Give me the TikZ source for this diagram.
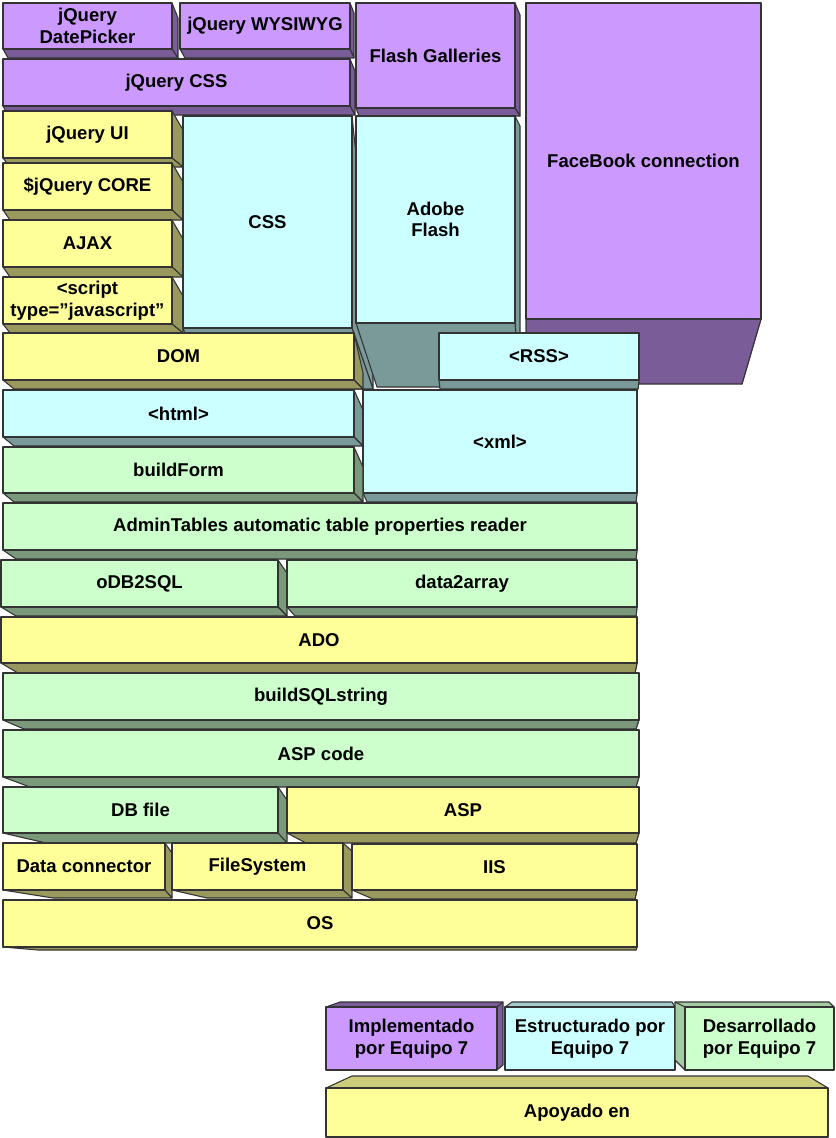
\documentclass[tikz,border=0pt]{standalone}
\usepackage{fontspec}
\setmainfont{Liberation Sans}
\usepackage{tikz}
\usetikzlibrary{fit}

\definecolor{purpfront}{HTML}{CC99FF}
\definecolor{purpdark}{HTML}{7A5C99}
\definecolor{yelfront}{HTML}{FFFF99}
\definecolor{yeldark}{HTML}{99995E}
\definecolor{yellight}{HTML}{CCCC7A}
\definecolor{cyanfront}{HTML}{CCFFFF}
\definecolor{cyandark}{HTML}{7A9999}
\definecolor{cyanlight}{HTML}{A3CCCC}
\definecolor{greenfront}{HTML}{CCFFCC}
\definecolor{greendark}{HTML}{7A997A}
\definecolor{greenlight}{HTML}{A3CCA3}

\newcommand{\layerfont}{\fontsize{13.9}{16.3}\selectfont\bfseries}

\tikzset{
  edge/.style={draw=black!80, line width=0.8pt, line join=round},
  face/.style={edge, inner sep=0pt},
  layertext/.style={inner sep=0pt, align=center, font=\layerfont},
}

% layer block: name, front colour, side colour, top left, bottom right,
% bottom shift (left x, depth), right shift (x, top y), text
\newcommand{\slab}[8]{%
  \coordinate (#1-nw) at (#4);
  \coordinate (#1-se) at (#5);
  \path (#1-nw |- #1-se) ++(#6) coordinate (#1-bl);
  \path (#1-se |- #1-nw) ++(#7) coordinate (#1-tr);
  \coordinate (#1-br) at (#1-tr |- #1-bl);
  \filldraw[edge, fill=#3] (#1-se |- #1-nw) -- (#1-tr) -- (#1-br) -- (#1-se) -- cycle;
  \filldraw[edge, fill=#3] (#1-nw |- #1-se) -- (#1-bl) -- (#1-br) -- (#1-se) -- cycle;
  \node[face, fill=#2, fit=(#1-nw)(#1-se)] (#1) {};
  \node[layertext] (#1-text) at (#1.center) {#8};
}

\begin{document}
\begin{tikzpicture}[x=0.75pt,y=0.75pt,yscale=-1,xscale=1]
\useasboundingbox (0,0) rectangle (835,1138);

% Top row
\slab{facebook}{purpfront}{purpdark}{526,3}{761,319}{0,65}{-19,381}{FaceBook connection}
\slab{datepicker}{purpfront}{purpdark}{3,3}{172,49}{5,9}{6,15}{jQuery\\DatePicker}
\slab{wysiwyg}{purpfront}{purpdark}{180,3}{350,49}{5,9}{4,10}{jQuery WYSIWYG}
\slab{flashgal}{purpfront}{purpdark}{356,3}{515,108}{3,8}{5,12}{Flash Galleries}
\slab{jqcss}{purpfront}{purpdark}{3,59}{350,106}{5,9}{5,12}{jQuery CSS}

% jQuery stack
\slab{jqui}{yelfront}{yeldark}{3,111}{172,158}{7,9}{11,19}{jQuery UI}
\slab{jqcore}{yelfront}{yeldark}{3,163}{172,210}{7,10}{11,19}{\$jQuery CORE}
\slab{ajax}{yelfront}{yeldark}{3,220}{172,267}{7,10}{11,19}{AJAX}
\slab{script}{yelfront}{yeldark}{3,277}{172,324}{7,9}{11,19}{<script\\type=”javascript”}

% CSS and Flash
\slab{css}{cyanfront}{cyandark}{183,116}{352,328}{21,61}{21,200}{CSS}
\slab{flash}{cyanfront}{cyandark}{356,116}{515,323}{21,64}{5,10}{Adobe\\Flash}

% Document layers
\slab{dom}{yelfront}{yeldark}{3,333}{354,380}{11,9}{9,40}{DOM}
\slab{rss}{cyanfront}{cyandark}{439,333}{639,380}{1,9}{-1,56}{<RSS>}
\slab{html}{cyanfront}{cyandark}{3,390}{354,437}{11,9}{9,20}{<html>}
\slab{xml}{cyanfront}{cyandark}{363,390}{637,493}{4,9}{-1,112}{<xml>}
\slab{buildform}{greenfront}{greendark}{3,447}{354,493}{11,9}{9,20}{buildForm}
\slab{admintables}{greenfront}{greendark}{3,503}{637,550}{13,9}{-1,56}{AdminTables automatic table properties reader}
\slab{odbsql}{greenfront}{greendark}{1,560}{278,607}{15,9}{9,13}{oDB2SQL}
\slab{dataarray}{greenfront}{greendark}{287,560}{637,607}{8,9}{-1,56}{data2array}

% Server layers
\slab{ado}{yelfront}{yeldark}{1,617}{637,663}{17,10}{-2,56}{ADO}
\slab{buildsql}{greenfront}{greendark}{3,673}{639,720}{21,9}{-3,56}{buildSQLstring}
\slab{aspcode}{greenfront}{greendark}{3,730}{639,777}{27,10}{-3,57}{ASP code}
\slab{dbfile}{greenfront}{greendark}{3,787}{278,833}{43,10}{9,13}{DB file}
\slab{asp}{yelfront}{yeldark}{287,787}{639,833}{19,10}{-3,56}{ASP}
\slab{dataconn}{yelfront}{yeldark}{3,843}{165,890}{50,8}{7,10}{Data connector}
\slab{filesys}{yelfront}{yeldark}{172,843}{343,890}{35,8}{9,8}{FileSystem}
\slab{iis}{yelfront}{yeldark}{352,844}{637,890}{21,9}{-2,55}{IIS}
\slab{os}{yelfront}{yeldark}{3,900}{637,947}{35,3}{-1,50}{OS}

% Legend
\coordinate (impl-nw) at (326,1007);
\coordinate (impl-se) at (497,1070);
\filldraw[edge, fill=purpdark] (326,1007) -- (340,1002) -- (503,1002) -- (503,1065) -- (497,1070) -- (497,1007) -- cycle;
\draw[edge] (497,1007) -- (503,1002);
\node[face, fill=purpfront, fit=(impl-nw)(impl-se)] (impl) {};
\node[layertext] (impl-text) at (impl.center) {Implementado\\por Equipo 7};

\coordinate (estr-nw) at (505,1007);
\coordinate (estr-se) at (675,1070);
\filldraw[edge, fill=cyanlight] (505,1007) -- (512,1002) -- (672,1002) -- (675,1007) -- cycle;
\node[face, fill=cyanfront, fit=(estr-nw)(estr-se)] (estr) {};
\node[layertext] (estr-text) at (estr.center) {Estructurado por\\Equipo 7};

\coordinate (desa-nw) at (685,1007);
\coordinate (desa-se) at (834,1070);
\filldraw[edge, fill=greenlight] (685,1070) -- (675,1060) -- (675,1002) -- (829,1002) -- (834,1007) -- (685,1007) -- cycle;
\draw[edge] (675,1002) -- (685,1007);
\node[face, fill=greenfront, fit=(desa-nw)(desa-se)] (desa) {};
\node[layertext] (desa-text) at (desa.center) {Desarrollado\\por Equipo 7};

\coordinate (apoy-nw) at (326,1088);
\coordinate (apoy-se) at (828,1137);
\filldraw[edge, fill=yellight] (326,1088) -- (352,1076) -- (808,1076) -- (828,1088) -- cycle;
\node[face, fill=yelfront, fit=(apoy-nw)(apoy-se)] (apoy) {};
\node[layertext] (apoy-text) at (apoy.center) {Apoyado en};

\end{tikzpicture}
\end{document}
